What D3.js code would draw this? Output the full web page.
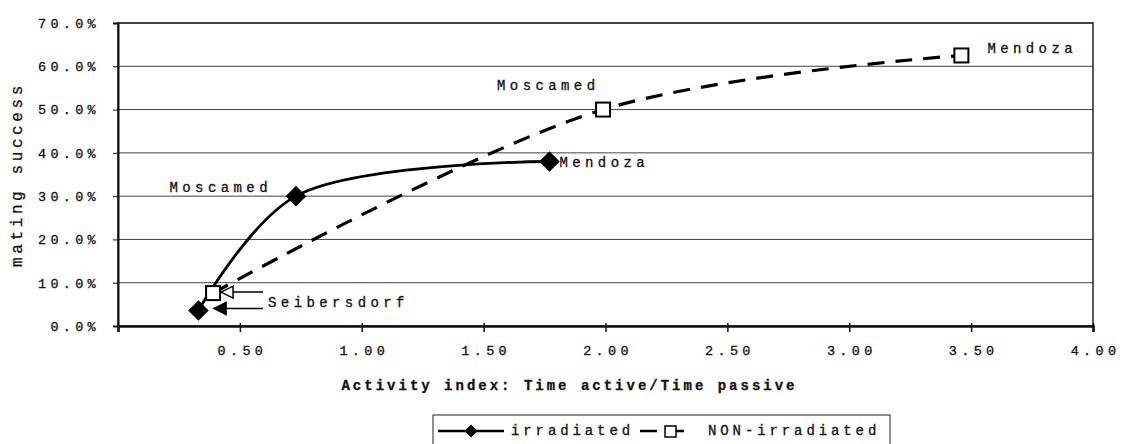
<!DOCTYPE html>
<html>
<head>
<meta charset="utf-8">
<script src="https://cdn.jsdelivr.net/npm/d3@7"></script>
<style>
  body { margin: 0; background: #fff; }
  svg text { font-family: "Liberation Mono", "DejaVu Sans Mono", monospace; fill: #111; stroke: #111; stroke-width: 0.3px; }
</style>
</head>
<body>
<div id="chart"></div>
<script>
// sites (same order in both series)
const sites = ["Seibersdorf", "Moscamed", "Mendoza"];
// activity index (x) and mating success in % (y)
const irrX = [0.33, 0.73, 1.77];
const irrY = [3.6, 30.0, 38.0];
const nonX = [0.39, 1.99, 3.46];
const nonY = [7.6, 50.0, 62.5];
const xTicks = [0, 0.5, 1, 1.5, 2, 2.5, 3, 3.5, 4];
const yTicks = [0, 10, 20, 30, 40, 50, 60, 70];
const seriesNames = ["irradiated", "NON-irradiated"];

const irr = sites.map((s, i) => ({ site: s, x: irrX[i], y: irrY[i] }));
const non = sites.map((s, i) => ({ site: s, x: nonX[i], y: nonY[i] }));

const W = 1133, H = 444;
const margin = { left: 118, right: 40, top: 23, bottom: 118 };

const svg = d3.select("#chart").append("svg")
  .attr("width", W).attr("height", H);

const x = d3.scaleLinear().domain([0, 4]).range([margin.left, W - margin.right]);
const y = d3.scaleLinear().domain([0, 70]).range([H - margin.bottom, margin.top]);

//------grille horizontale
svg.append("g")
  .selectAll("line")
  .data(yTicks.filter(d => d > 0))
  .enter().append("line")
  .attr("x1", x(0)).attr("x2", x(4))
  .attr("y1", d => y(d)).attr("y2", d => y(d))
  .attr("stroke", "#444").attr("stroke-width", 1);

//------cadre
svg.append("rect")
  .attr("x", x(0)).attr("y", y(70))
  .attr("width", x(4) - x(0)).attr("height", y(0) - y(70))
  .attr("fill", "none").attr("stroke", "#222").attr("stroke-width", 1.5);

//------axe y
const yAxis = svg.append("g")
  .attr("transform", `translate(${x(0)},0)`)
  .call(d3.axisLeft(y).tickValues(yTicks).tickSize(5).tickPadding(13)
    .tickFormat(d => d3.format(".1f")(d) + "%"));
yAxis.select(".domain").attr("stroke", "#111").attr("stroke-width", 2);
yAxis.selectAll(".tick line").attr("stroke", "#111");
yAxis.selectAll("text")
  .style("font-family", "Liberation Mono").style("font-size", "13.5px")
  .style("letter-spacing", "4.3px").attr("fill", "#111");

//------axe x
const xAxis = svg.append("g")
  .attr("transform", `translate(0,${y(0)})`)
  .call(d3.axisBottom(x).tickValues(xTicks).tickSize(6).tickPadding(13)
    .tickFormat(d => d === 0 ? "" : d3.format(".2f")(d)));
xAxis.select(".domain").attr("stroke", "#111").attr("stroke-width", 2.5);
xAxis.selectAll(".tick line").attr("stroke", "#111").attr("stroke-width", 1.5)
  .attr("y1", -3);
xAxis.selectAll("text")
  .style("font-family", "Liberation Mono").style("font-size", "13.5px")
  .style("letter-spacing", "4.3px").attr("fill", "#111")
  .attr("dx", "2px");

//------titres des axes
svg.append("text")
  .attr("x", (x(0) + x(4)) / 2 - 36).attr("y", 390)
  .attr("text-anchor", "middle")
  .style("font-size", "14px").style("font-weight", "bold")
  .style("letter-spacing", "3px")
  .text("Activity index: Time active/Time passive");

svg.append("text")
  .attr("transform", `translate(22,${(y(0) + y(70)) / 2}) rotate(-90)`)
  .attr("text-anchor", "middle")
  .style("font-size", "16px").style("letter-spacing", "3.6px")
  .text("mating success");

//------courbes lissées
const line = d3.line()
  .x(d => x(d.x)).y(d => y(d.y))
  .curve(d3.curveCatmullRom.alpha(0.5));

svg.append("path").datum(non)
  .attr("d", line).attr("fill", "none")
  .attr("stroke", "#000").attr("stroke-width", 3.2)
  .attr("stroke-dasharray", "17,11");

svg.append("path").datum(irr)
  .attr("d", line).attr("fill", "none")
  .attr("stroke", "#000").attr("stroke-width", 2.8);

//------marqueurs
const diamond = d3.symbol().type(d3.symbolDiamond2).size(270);
svg.append("g").selectAll("path")
  .data(irr).enter().append("path")
  .attr("d", diamond)
  .attr("transform", d => `translate(${x(d.x)},${y(d.y)})`)
  .attr("fill", "#000");

svg.append("g").selectAll("rect")
  .data(non).enter().append("rect")
  .attr("x", d => x(d.x) - 7).attr("y", d => y(d.y) - 7)
  .attr("width", 14).attr("height", 14)
  .attr("fill", "#fff").attr("stroke", "#000").attr("stroke-width", 2);

//------étiquettes
function label(px, py, txt, anchor) {
  svg.append("text")
    .attr("x", px).attr("y", py)
    .attr("text-anchor", anchor || "start")
    .style("font-size", "14px").style("letter-spacing", "4.4px")
    .text(txt);
}
label(x(irr[1].x) - 24, y(irr[1].y) - 4, irr[1].site, "end");
label(x(irr[2].x) + 10, y(irr[2].y) + 5, irr[2].site);
label(x(non[1].x) - 106, y(non[1].y) - 20, non[1].site);
label(x(non[2].x) + 26, y(non[2].y) - 2, non[2].site);
label(x(non[0].x) + 55, y(non[0].y) + 14, non[0].site);

//------flèches Seibersdorf
const arrows = [
  { tx: x(non[0].x) + 8, ty: y(non[0].y) - 1, fill: "#fff" },
  { tx: x(non[0].x) + 1, ty: y(irr[0].y) - 2, fill: "#000" }
];
const ax2 = x(non[0].x) + 50;
arrows.forEach(a => {
  svg.append("line")
    .attr("x1", a.tx + 8).attr("x2", ax2)
    .attr("y1", a.ty).attr("y2", a.ty)
    .attr("stroke", "#000").attr("stroke-width", 1.5);
  svg.append("path")
    .attr("d", `M${a.tx},${a.ty} L${a.tx + 12},${a.ty - 6} L${a.tx + 12},${a.ty + 6} Z`)
    .attr("fill", a.fill).attr("stroke", "#000").attr("stroke-width", 1.5);
});

//------légende
const leg = svg.append("g");
leg.append("rect")
  .attr("x", 433).attr("y", 415).attr("width", 457).attr("height", 40)
  .attr("fill", "#fff").attr("stroke", "#222").attr("stroke-width", 1);

leg.append("line")
  .attr("x1", 438).attr("x2", 504).attr("y1", 431).attr("y2", 431)
  .attr("stroke", "#000").attr("stroke-width", 2.5);
leg.append("path")
  .attr("d", d3.symbol().type(d3.symbolDiamond2).size(110))
  .attr("transform", "translate(471,431)").attr("fill", "#000");
leg.append("text").attr("x", 511).attr("y", 435)
  .style("font-size", "14px").style("letter-spacing", "3.9px")
  .text(seriesNames[0]);

leg.append("line")
  .attr("x1", 640).attr("x2", 694).attr("y1", 431).attr("y2", 431)
  .attr("stroke", "#000").attr("stroke-width", 2.5)
  .attr("stroke-dasharray", "17,10");
leg.append("rect")
  .attr("x", 665).attr("y", 426).attr("width", 11).attr("height", 11)
  .attr("fill", "#fff").attr("stroke", "#000").attr("stroke-width", 1.5);
leg.append("text").attr("x", 708).attr("y", 435)
  .style("font-size", "14px").style("letter-spacing", "3.9px")
  .text(seriesNames[1]);
</script>
</body>
</html>
